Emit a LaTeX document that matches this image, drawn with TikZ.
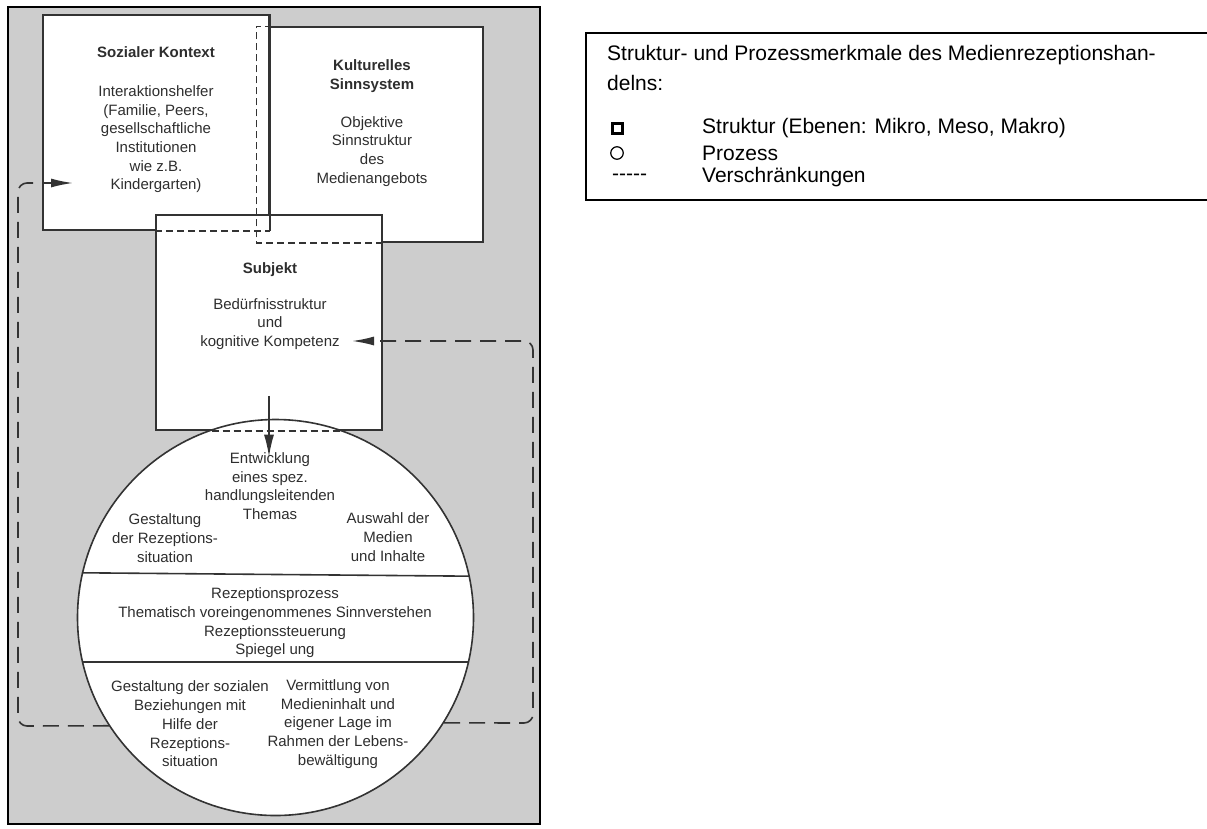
\documentclass[tikz,border=0pt]{standalone}
\usepackage{fontspec}
\setmainfont{Liberation Sans}
\usetikzlibrary{arrows.meta}
\definecolor{panelgray}{HTML}{CDCDCD}
\definecolor{inkgray}{HTML}{333333}

\begin{document}
\begin{tikzpicture}[x=1pt, y=-1pt,
  box/.style  ={draw=inkgray, fill=white, line width=1.6pt, inner sep=0pt,
                minimum width=226pt, minimum height=215pt},
  hid/.style  ={draw=inkgray, line width=1.4pt, dash pattern=on 7pt off 4pt},
  txt/.style  ={font=\fontsize{15}{18.7}\selectfont, text=black!82, align=center, inner sep=0pt},
  lgd/.style  ={font=\fontsize{21}{24.5}\selectfont, anchor=west, inner sep=0pt},
  sym/.style  ={draw=black, inner sep=0pt},
  loopline/.style ={draw=inkgray, line width=1.6pt, dash pattern=on 16pt off 9pt,
                rounded corners=9pt, -{Latex[length=22pt, width=9pt]}},
  fwd/.style  ={draw=inkgray, line width=1.4pt, -{Latex[length=22pt, width=10pt]}},
]
\useasboundingbox (0,0) rectangle (1207,828);

% ---------------- left panel: the model ----------------
\draw[line width=2.2pt, fill=panelgray] (8,7) rectangle (540,824);

\node[box] (kult) at (370,134.5) {};
\node[box] (soc)  at (156,122.5) {};
\node[box] (subj) at (269,322.5) {};

% hidden edges
\draw[hid] (kult.south -| subj.east) -- (kult.south west) -- (kult.north west)
  -- (kult.north west -| soc.east);
\draw[hid] (soc.south west -| subj.west) -- (soc.south east);
\draw[inkgray, line width=1.6pt] (soc.north east) -- (soc.south east);

\node[txt] (soctxt) at (156,120)
  {\textbf{Sozialer Kontext}\\[20pt]Interaktionshelfer\\(Familie, Peers,\\gesellschaftliche\\Institutionen\\wie z.B.\\Kindergarten)};
\node[txt] (kulttxt) at (372,123)
  {\textbf{Kulturelles}\\\textbf{Sinnsystem}\\[19pt]Objektive\\Sinnstruktur\\des\\Medienangebots};
\node[txt] (subjtxt) at (270,306)
  {\textbf{Subjekt}\\[17pt]Bedürfnisstruktur\\und\\kognitive Kompetenz};

\node[circle, draw=inkgray, fill=white, line width=1.6pt, minimum size=396pt, inner sep=0pt]
  (circ) at (275.5,617.5) {};
\draw[hid] ([xshift=-64pt]circ.north |- subj.south) -- ([xshift=64pt]circ.north |- subj.south);
\draw[inkgray, line width=1.6pt] (circ.167.3) -- (circ.12.7);
\draw[inkgray, line width=1.6pt] (circ.193.9) -- (circ.-13.9);

\node[txt] (theme) at (270,486)
  {Entwicklung\\eines spez.\\handlungsleitenden\\Themas};
\node[txt] (sitn)  at (165,538) {Gestaltung\\der Rezeptions-\\situation};
\node[txt] (media) at (388,537) {Auswahl der\\Medien\\und Inhalte};
\node[txt] (proc)  at (275,623)
  {Rezeptionsprozess\\Thematisch voreingenommenes Sinnverstehen\\Rezeptionssteuerung\\Spiegel ung};
\node[txt] (relat) at (190,724)
  {Gestaltung der sozialen\\Beziehungen mit\\Hilfe der\\Rezeptions-\\situation};
\node[txt] (lifew) at (338,724)
  {Vermittlung von\\Medieninhalt und\\eigener Lage im\\Rahmen der Lebens-\\bewältigung};

\draw[fwd] ([yshift=35pt]subj.south) -- ([yshift=-38pt]circ.north -| subj.south);

% feedback loops
\coordinate (lbot)  at (18,726);
\coordinate (ltop)  at (18,183);
\coordinate (socin) at (73,183);
\coordinate (rbot)  at (533,723);
\coordinate (rtop)  at (533,341);
\coordinate (subin) at (352,341);
\draw[loopline] (circ.213) -- (lbot) -- (ltop) -- (socin);
\draw[loopline] (circ.-32.2) -- (rbot) -- (rtop) -- (subin);

% ---------------- legend ----------------
\node[draw, line width=1.5pt, minimum width=624pt, minimum height=167pt, inner sep=0pt]
  (legend) at (898,116.5) {};
\node[lgd] (lhead) at (607,55) {Struktur- und Prozessmerkmale des Medienrezeptionshan-};
\node[lgd] (lhead2) at (607,83) {delns:};
\node[sym, line width=3pt, minimum size=10pt] (sqsym) at (617,128) {};
\node[sym, circle, line width=1.2pt, minimum size=12.5pt] (cisym) at (617,153) {};
\node[lgd] (dasym) at (612,177) {-{}-{}-{}-{}-};
\node[lgd] (lstruct) at (702,128) {Struktur (Ebenen: Mikro, Meso, Makro)};
\node[lgd] (lproc)   at (702,153) {Prozess};
\node[lgd] (lverschr) at (702,177) {Verschränkungen};

\end{tikzpicture}
\end{document}
